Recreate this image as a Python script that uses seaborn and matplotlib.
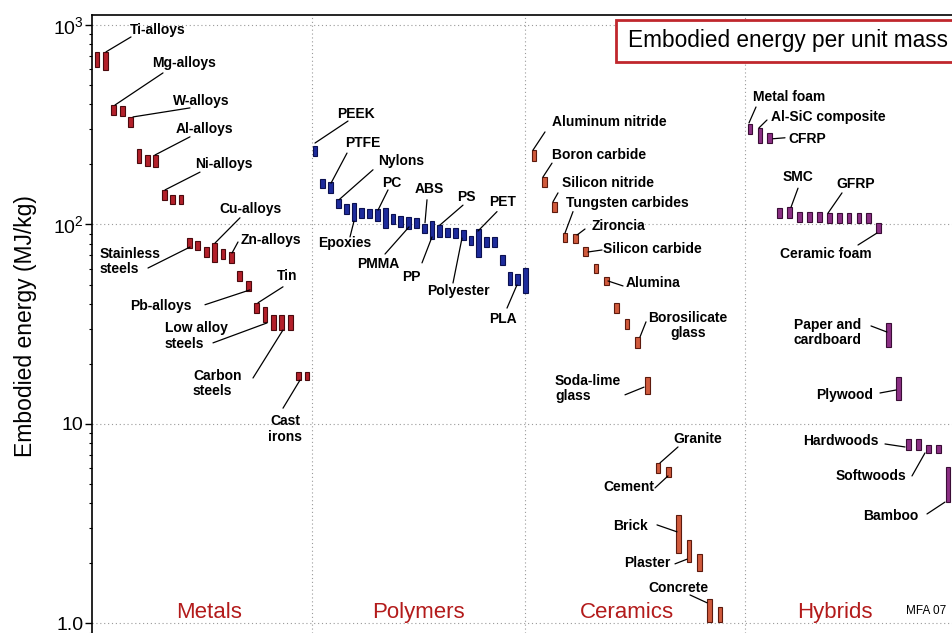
import matplotlib
matplotlib.use("Agg")
import matplotlib.pyplot as plt
from matplotlib.patches import Rectangle
from matplotlib.ticker import FixedLocator, FixedFormatter, LogLocator, NullFormatter
import seaborn as sns
import pandas as pd

# ---------------------------------------------------------------
# Embodied energy ranges (MJ/kg), one range bar per material grade
# ---------------------------------------------------------------
families = ["Metals", "Polymers", "Ceramics", "Hybrids"]

metal_low = [616, 595, 354, 350, 308, 203, 196, 194, 133, 127, 127,
             76.2, 74.5, 68.7, 64.9, 67.2, 64.2, 52.1, 46.5, 36.0,
             32.5, 29.6, 29.6, 29.6, 16.6, 16.6]
metal_high = [733, 733, 397, 393, 346, 239, 223, 223, 149, 141, 141,
              85.5, 82.6, 77.1, 80.7, 75.4, 72.8, 58.5, 52.1, 40.5,
              38.6, 35.2, 35.2, 35.2, 18.2, 18.2]

polymer_low = [220, 152, 144, 121, 113, 104, 108, 108, 104, 96, 100.6,
               97, 95, 96, 90.6, 84.6, 86.6, 86.6, 85.6, 83.6, 78.9,
               68.7, 77.1, 77.1, 62.7, 49.8, 49.8, 45.4]
polymer_high = [247, 169, 163, 134, 127, 128, 121, 120, 120, 121, 113,
                110, 109, 108, 100.6, 104, 99.4, 96, 96, 93.8, 87.6,
                94.9, 86.6, 86.6, 70.3, 57.8, 56.5, 60.5]

ceramic_low = [208, 154, 116, 81.7, 80.8, 69.5, 57.1, 49.8, 36.0, 29.9,
               24.0, 14.1, 5.68, 5.42, 2.26, 2.03, 1.83, 1.02, 1.02]
ceramic_high = [236, 173, 130, 90.7, 89.7, 77.1, 63.4, 54.5, 40.4, 33.6,
                27.3, 17.2, 6.37, 6.09, 3.50, 2.62, 2.23, 1.33, 1.21]

hybrid_low = [284, 256, 256, 108, 108, 103, 103, 103, 102, 102, 102,
              102, 102, 90.7, 24.3, 13.2, 7.41, 7.41, 7.15, 7.15, 4.06]
hybrid_high = [319, 305, 287, 121, 122, 116, 116, 116, 114, 114, 114,
               114, 114, 102, 32.1, 17.2, 8.41, 8.41, 7.85, 7.85, 6.09]

y_tick_values = [1, 10, 100, 1000]
y_tick_labels = ["1.0", "10", r"10$^{\mathregular{2}}$", r"10$^{\mathregular{3}}$"]

# ---------------------------------------------------------------
# Layout: each family occupies a run of evenly spaced slots
# ---------------------------------------------------------------
family_start = {"Metals": 5, "Polymers": 223, "Ceramics": 442, "Hybrids": 658}
family_step = {"Metals": 8.4, "Polymers": 7.8, "Ceramics": 10.33, "Hybrids": 9.9}
family_face = {"Metals": "#b3202a", "Polymers": "#1d2b9c",
               "Ceramics": "#d05a3c", "Hybrids": "#8b2f84"}
family_edge = {"Metals": "#4a0a0e", "Polymers": "#0b1050",
               "Ceramics": "#5c1a0e", "Hybrids": "#3a0d36"}
family_label_x = {"Metals": 117, "Polymers": 326, "Ceramics": 535, "Hybrids": 743}
separators = [220, 433, 653]

ranges = {"Metals": (metal_low, metal_high),
          "Polymers": (polymer_low, polymer_high),
          "Ceramics": (ceramic_low, ceramic_high),
          "Hybrids": (hybrid_low, hybrid_high)}

rows = []
for fam in families:
    lo, hi = ranges[fam]
    for i, (a, b) in enumerate(zip(lo, hi)):
        rows.append({"family": fam, "slot": i, "low": a, "high": b})
df = pd.DataFrame(rows)
df["x"] = [family_start[f] + family_step[f] * s for f, s in zip(df["family"], df["slot"])]

# Material labels: text, text anchor (x, value), alignment, leader line
labels = [
    ("Ti-alloys", (38, 944), "left", (14, 733), (39, 871)),
    ("Mg-alloys", (60, 646), "left", (23, 397), (71, 575)),
    ("W-alloys", (81, 416), "left", (41, 346), (98, 384)),
    ("Al-alloys", (84, 301), "left", (63, 223), (98, 275)),
    ("Ni-alloys", (103, 201), "left", (73, 149), (108, 183)),
    ("Cu-alloys", (127, 120), "left", (123, 80.7), (148, 108)),
    ("Zn-alloys", (149, 83.6), "left", (140, 71.9), (146, 81.7)),
    ("Stainless\nsteels", (8, 64.9), "left", (56, 60.5), (98, 77.1)),
    ("Pb-alloys", (38, 39.1), "left", (113, 39.6), (158, 47.0)),
    ("Tin", (185, 55.2), "left", (166, 40.5), (191, 48.7)),
    ("Low alloy\nsteels", (73, 27.6), "left", (121, 25.5), (175, 32.1)),
    ("Carbon\nsteels", (101, 15.9), "left", (161, 17.0), (191, 29.6)),
    ("Cast\nirons", (193, 9.44), "center", (191, 12.0), (208, 16.6)),
    ("PEEK", (245, 358), "left", (223, 256), (256, 330)),
    ("PTFE", (253, 256), "left", (239, 161), (255, 228)),
    ("Nylons", (286, 208), "left", (247, 133), (281, 188)),
    ("PC", (290, 161), "left", (286, 118), (296, 149)),
    ("ABS", (323, 151), "left", (333, 102), (335, 133)),
    ("PS", (365, 137), "left", (348, 99.4), (371, 125)),
    ("PET", (397, 130), "left", (386, 92.7), (405, 116)),
    ("Epoxies", (226, 80.7), "left", (262, 104), (258, 86.6)),
    ("PMMA", (265, 63.4), "left", (317, 97.2), (293, 71.1)),
    ("PP", (310, 54.6), "left", (340, 86.6), (330, 64.2)),
    ("Polyester", (335, 46.5), "left", (370, 85.5), (361, 50.9)),
    ("PLA", (397, 33.6), "left", (425, 49.8), (415, 38.1)),
    ("Aluminum nitride", (460, 327), "left", (441, 236), (453, 291)),
    ("Boron carbide", (460, 223), "left", (451, 173), (460, 203)),
    ("Silicon nitride", (470, 161), "left", (461, 130), (466, 144)),
    ("Tungsten carbides", (474, 128), "left", (473, 90.6), (481, 116)),
    ("Zironcia", (500, 98.3), "left", (485, 88.5), (493, 94.9)),
    ("Silicon carbide", (511, 75.4), "left", (496, 72.8), (510, 74.5)),
    ("Alumina", (534, 50.9), "left", (516, 52.1), (531, 49.2)),
    ("Borosilicate\nglass", (596, 31.2), "center", (548, 27.3), (554, 32.5)),
    ("Soda-lime\nglass", (463, 15.1), "left", (533, 14.0), (552, 15.3)),
    ("Granite", (581, 8.41), "left", (568, 6.38), (586, 7.67)),
    ("Cement", (511, 4.83), "left", (563, 4.78), (576, 5.49)),
    ("Brick", (521, 3.08), "left", (565, 3.12), (585, 2.88)),
    ("Plaster", (532, 2.01), "left", (583, 1.99), (595, 2.10)),
    ("Concrete", (556, 1.51), "left", (598, 1.39), (615, 1.27)),
    ("Metal foam", (661, 435), "left", (657, 323), (664, 388)),
    ("Al-SiC composite", (679, 346), "left", (667, 305), (675, 334)),
    ("CFRP", (696, 269), "left", (681, 269), (693, 272)),
    ("SMC", (691, 173), "left", (699, 122), (706, 152)),
    ("GFRP", (744, 160), "left", (736, 114), (750, 144)),
    ("Ceramic foam", (688, 71.1), "left", (785, 90.6), (766, 78.9)),
    ("Paper and\ncardboard", (736, 28.8), "center", (779, 31.0), (795, 28.9)),
    ("Plywood", (724, 14.0), "left", (788, 14.3), (804, 14.8)),
    ("Hardwoods", (711, 8.22), "left", (793, 7.94), (813, 7.67)),
    ("Softwoods", (744, 5.49), "left", (820, 5.49), (833, 7.16)),
    ("Bamboo", (771, 3.46), "left", (835, 3.54), (853, 4.06)),
]

# ---------------------------------------------------------------
# Figure
# ---------------------------------------------------------------
sns.set_theme(style="white")
plt.rcParams["font.family"] = ["Liberation Sans", "DejaVu Sans"]
plt.rcParams["mathtext.fontset"] = "custom"
plt.rcParams["mathtext.rm"] = "Liberation Sans"
plt.rcParams["mathtext.it"] = "Liberation Sans:italic"
plt.rcParams["mathtext.bf"] = "Liberation Sans:bold"

fig = plt.figure(figsize=(9.52, 6.33), dpi=100)
fig.patch.set_facecolor("white")
ax = fig.add_axes([92 / 952, 0.0, 860 / 952, 618 / 633])
ax.set_facecolor("white")
ax.set_yscale("log")
ax.set_xlim(0, 860)
ax.set_ylim(0.896, 1122)

# background reference lines
for v in y_tick_values:
    ax.axhline(v, color="#9a9a9a", lw=0.8, ls=(0, (1, 2.5)), zorder=1)
for xs in separators:
    ax.axvline(xs, color="#9a9a9a", lw=0.8, ls=(0, (1, 2.5)), zorder=1)

# range bars
for fam in families:
    g = df[df["family"] == fam]
    ax.bar(g["x"], g["high"] - g["low"], bottom=g["low"], width=4.8,
           color=family_face[fam], edgecolor=family_edge[fam],
           linewidth=0.8, zorder=3)

# labels with leader lines
for text, (tx, ty), ha, p0, p1 in labels:
    ax.plot([p0[0], p1[0]], [p0[1], p1[1]], color="black", lw=0.9, zorder=4)
    ax.text(tx, ty, text, ha=ha, va="center", fontsize=10,
            fontweight="bold", linespacing=1.1, color="black", zorder=5)

# family names
for fam in families:
    ax.text(family_label_x[fam], 1.064, fam, ha="center", va="baseline",
            fontsize=16, color="#b31b1b", zorder=5)
ax.text(814, 1.16, "MFA 07", ha="left", va="center", fontsize=8.5,
        color="black", zorder=5)

# axes styling
for side in ["right", "bottom"]:
    ax.spines[side].set_visible(False)
for side in ["left", "top"]:
    ax.spines[side].set_visible(True)
    ax.spines[side].set_color("black")
    ax.spines[side].set_linewidth(1.2)
ax.set_xticks([])
ax.yaxis.set_major_locator(FixedLocator(y_tick_values))
ax.yaxis.set_major_formatter(FixedFormatter(y_tick_labels))
ax.yaxis.set_minor_locator(LogLocator(base=10, subs=range(2, 10)))
ax.yaxis.set_minor_formatter(NullFormatter())
ax.tick_params(axis="y", which="major", direction="out", length=5,
               width=1.0, pad=1, labelsize=14, colors="black", left=True)
ax.tick_params(axis="y", which="minor", direction="out", length=2.5,
               width=0.8, left=True, colors="black")

fig.text(26 / 952, 0.485, "Embodied energy (MJ/kg)", rotation=90,
         ha="center", va="center", fontsize=16.5, color="black")

# title box
fig.add_artist(Rectangle((616 / 952, 1 - 62 / 633), 0.5, 42 / 633,
                         transform=fig.transFigure, facecolor="white",
                         edgecolor="#c0272d", linewidth=2, zorder=6))
fig.text(628 / 952, 1 - 40 / 633, "Embodied energy per unit mass",
         ha="left", va="center", fontsize=16.3, color="black", zorder=7)

fig.savefig("out.png", dpi=100, facecolor="white")
